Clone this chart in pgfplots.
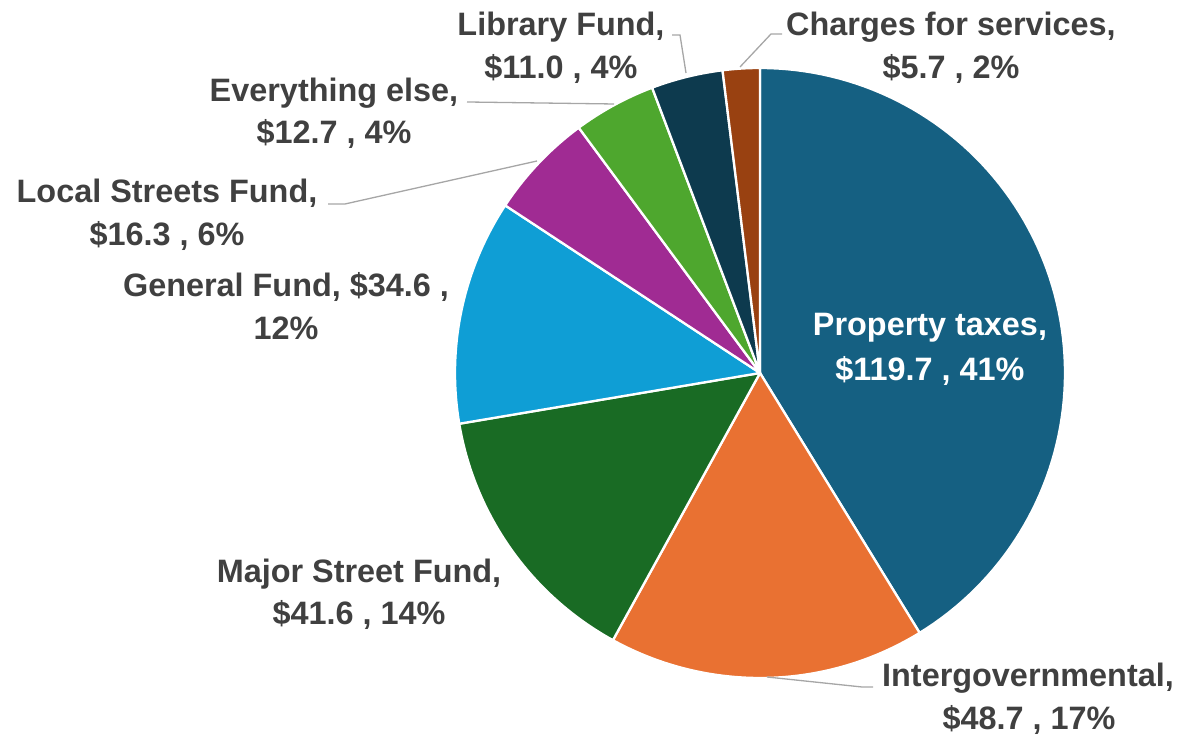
\documentclass[border=0pt]{standalone}
\usepackage{fontspec}
\setmainfont{Liberation Sans}
\usepackage{pgfplots}
\pgfplotsset{compat=1.18}
\definecolor{cPT}{HTML}{156082}
\definecolor{cIG}{HTML}{E97132}
\definecolor{cMS}{HTML}{196B24}
\definecolor{cGF}{HTML}{0F9ED5}
\definecolor{cLS}{HTML}{A02B93}
\definecolor{cEE}{HTML}{4EA72E}
\definecolor{cLF}{HTML}{0D3A4E}
\definecolor{cCS}{HTML}{994111}
\definecolor{txt}{HTML}{404040}
\definecolor{lead}{HTML}{A6A6A6}
\tikzset{
  lbl/.style={anchor=base, font=\fontsize{16.2}{19}\selectfont\bfseries, text=txt, inner sep=0pt},
  ld/.style={draw=lead, line width=0.65pt},
}
% Values ($ millions): Property taxes 119.7, Intergovernmental 48.7,
% Major Street Fund 41.6, General Fund 34.6, Local Streets Fund 16.3,
% Everything else 12.7, Library Fund 11.0, Charges for services 5.7; total 290.3
\newcommand{\total}{290.3}
\begin{document}
\begin{tikzpicture}
\begin{axis}[
  scale only axis, width=594pt, height=368.5pt,
  xmin=0, xmax=1188, ymin=0, ymax=737,
  hide axis, clip=false,
  every axis plot/.append style={draw=white, line width=1.15pt, line join=round, samples=90, variable=\t},
]
% fixed canvas
\path (axis cs:0,0) rectangle (axis cs:1188,737);
% slices: domain = cumulative value range, clockwise from 12 o'clock
\addplot[fill=cPT, domain=0:119.7]   ({760+305*cos(90-\t*360/\total)},{364+305*sin(90-\t*360/\total)}) -- (axis cs:760,364) -- cycle;
\addplot[fill=cIG, domain=119.7:168.4] ({760+305*cos(90-\t*360/\total)},{364+305*sin(90-\t*360/\total)}) -- (axis cs:760,364) -- cycle;
\addplot[fill=cMS, domain=168.4:210.0] ({760+305*cos(90-\t*360/\total)},{364+305*sin(90-\t*360/\total)}) -- (axis cs:760,364) -- cycle;
\addplot[fill=cGF, domain=210.0:244.6] ({760+305*cos(90-\t*360/\total)},{364+305*sin(90-\t*360/\total)}) -- (axis cs:760,364) -- cycle;
\addplot[fill=cLS, domain=244.6:260.9] ({760+305*cos(90-\t*360/\total)},{364+305*sin(90-\t*360/\total)}) -- (axis cs:760,364) -- cycle;
\addplot[fill=cEE, domain=260.9:273.6] ({760+305*cos(90-\t*360/\total)},{364+305*sin(90-\t*360/\total)}) -- (axis cs:760,364) -- cycle;
\addplot[fill=cLF, domain=273.6:284.6] ({760+305*cos(90-\t*360/\total)},{364+305*sin(90-\t*360/\total)}) -- (axis cs:760,364) -- cycle;
\addplot[fill=cCS, domain=284.6:290.3] ({760+305*cos(90-\t*360/\total)},{364+305*sin(90-\t*360/\total)}) -- (axis cs:760,364) -- cycle;

% leader lines
\draw[ld] (axis cs:672,702) -- (axis cs:680,702) -- (axis cs:686,664);
\draw[ld] (axis cs:782,703) -- (axis cs:771,703) -- (axis cs:740,670);
\draw[ld] (axis cs:467,635) -- (axis cs:614,633);
\draw[ld] (axis cs:328,533) -- (axis cs:345,533) -- (axis cs:537,576);
\draw[ld] (axis cs:767,60) -- (axis cs:862,50) -- (axis cs:873,50);

% labels
\node[lbl] at (axis cs:561,701) {Library Fund,};
\node[lbl] at (axis cs:561,658) {\$11.0 , 4\%};
\node[lbl] at (axis cs:951,701) {Charges for services,};
\node[lbl] at (axis cs:951,658) {\$5.7 , 2\%};
\node[lbl] at (axis cs:334,635) {Everything else,};
\node[lbl] at (axis cs:334,593) {\$12.7 , 4\%};
\node[lbl] at (axis cs:167,534) {Local Streets Fund,};
\node[lbl] at (axis cs:167,491) {\$16.3 , 6\%};
\node[lbl] at (axis cs:286,440) {General Fund, \$34.6 ,};
\node[lbl] at (axis cs:286,397) {12\%};
\node[lbl, text=white] at (axis cs:930,401) {Property taxes,};
\node[lbl, text=white] at (axis cs:930,356) {\$119.7 , 41\%};
\node[lbl] at (axis cs:359,154) {Major Street Fund,};
\node[lbl] at (axis cs:359,112) {\$41.6 , 14\%};
\node[lbl] at (axis cs:1028,50) {Intergovernmental,};
\node[lbl] at (axis cs:1029,7) {\$48.7 , 17\%};
\end{axis}
\end{tikzpicture}
\end{document}
